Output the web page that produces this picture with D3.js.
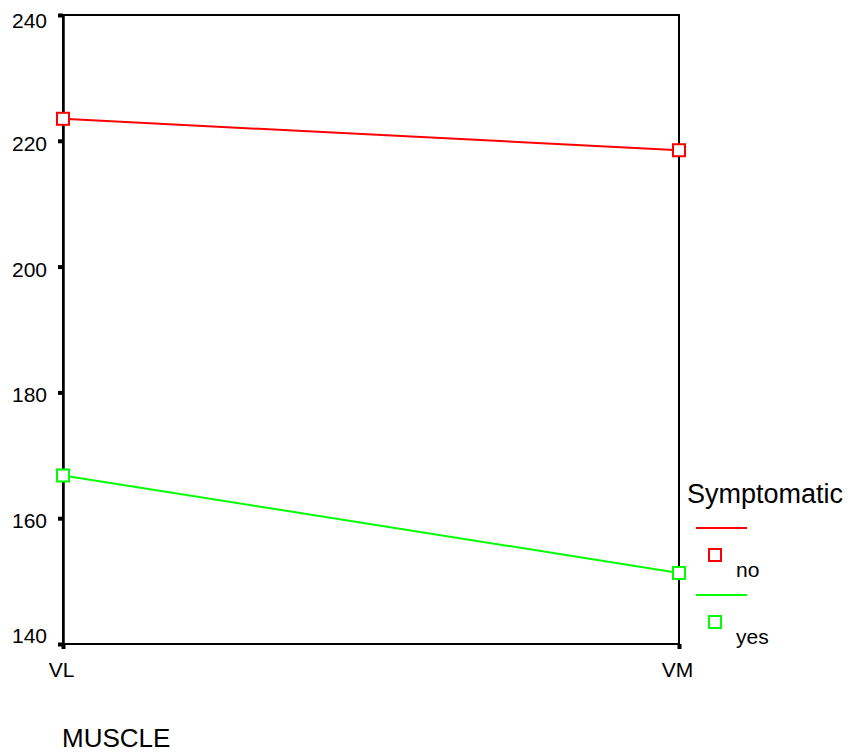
<!DOCTYPE html>
<html>
<head>
<meta charset="UTF-8">
<title>MUSCLE by Symptomatic</title>
<script src="https://d3js.org/d3.v7.min.js"></script>
<style>
  body { margin: 0; background: #fff; }
  text { font-family: "Liberation Sans", Arial, sans-serif; fill: #000; }
</style>
</head>
<body>
<div class="canvas"></div>
<script>
  // data
  const muscles = ['VL', 'VM'];
  const groups = ['no', 'yes'];
  const noValues = [223.5, 218.5];
  const yesValues = [166.8, 151.3];
  const yTicks = [140, 160, 180, 200, 220, 240];
  const colors = ['#ff0000', '#00ff00'];

  const width = 853, height = 755;
  const [ml, mr, mt, mb] = [63, 679, 15, 644];

  const series = groups.map((g, i) => ({
    name: g,
    color: colors[i],
    values: (i === 0 ? noValues : yesValues).map((v, j) => ({ m: muscles[j], v }))
  }));

  const svg = d3.select('.canvas').append('svg')
    .attr('width', width).attr('height', height);

  const x = d3.scalePoint().domain(muscles).range([ml, mr]);
  const y = d3.scaleLinear().domain([140, 240]).range([mb, mt]);

  // frame
  svg.append('rect')
    .attr('x', ml).attr('y', mt)
    .attr('width', mr - ml).attr('height', mb - mt)
    .attr('fill', 'none').attr('stroke', '#000').attr('stroke-width', 2);

  const yAxisG = svg.append('g').attr('transform', `translate(${ml},0)`)
    .call(d3.axisLeft(y).tickValues(yTicks).tickSize(5).tickPadding(10));
  yAxisG.select('.domain').attr('stroke-width', 2.5);
  yAxisG.selectAll('.tick line').attr('stroke-width', 4);
  // end labels are pulled inside the frame, the rest sit just under the tick
  const lo = d3.min(yTicks), hi = d3.max(yTicks);
  yAxisG.selectAll('.tick text')
    .attr('font-size', 21).attr('x', -16)
    .attr('dy', d => d === hi ? 12.5 : d === lo ? -2 : 9.5)
    .style('font-family', '"Liberation Sans", Arial, sans-serif');

  const xAxisG = svg.append('g').attr('transform', `translate(0,${mb})`)
    .call(d3.axisBottom(x).tickSize(5));
  xAxisG.select('.domain').remove();
  xAxisG.selectAll('.tick line').attr('stroke-width', 4);
  xAxisG.selectAll('.tick text')
    .attr('font-size', 21).attr('y', 33).attr('dy', 0).attr('dx', -2)
    .style('font-family', '"Liberation Sans", Arial, sans-serif');

  const line = d3.line().x(d => x(d.m)).y(d => y(d.v));

  const sg = svg.selectAll('.series').data(series).enter()
    .append('g').attr('class', 'series');

  sg.append('path')
    .attr('fill', 'none')
    .attr('stroke', d => d.color)
    .attr('stroke-width', 2)
    .attr('d', d => line(d.values));

  sg.selectAll('rect').data(d => d.values.map(p => ({ ...p, color: d.color })))
    .enter().append('rect')
    .attr('x', d => x(d.m) - 6).attr('y', d => y(d.v) - 6)
    .attr('width', 12).attr('height', 12)
    .attr('fill', '#fff').attr('stroke', d => d.color).attr('stroke-width', 2);

  // legend
  const legend = svg.append('g').attr('transform', 'translate(687,0)');
  legend.append('text').attr('x', 0).attr('y', 503)
    .attr('font-size', 27).text('Symptomatic');

  const item = legend.selectAll('.item').data(series).enter()
    .append('g').attr('class', 'item')
    .attr('transform', (d, i) => `translate(0,${528 + i * 67})`);
  item.append('line')
    .attr('x1', 9).attr('x2', 60).attr('y1', 0).attr('y2', 0)
    .attr('stroke', d => d.color).attr('stroke-width', 2);
  item.append('rect')
    .attr('x', 22).attr('y', 21).attr('width', 12).attr('height', 12)
    .attr('fill', '#fff').attr('stroke', d => d.color).attr('stroke-width', 2);
  item.append('text').attr('x', 49).attr('y', 49)
    .attr('font-size', 21).text(d => d.name);

  svg.append('text').attr('x', 62).attr('y', 747)
    .attr('font-size', 26).text('MUSCLE');
</script>
</body>
</html>
